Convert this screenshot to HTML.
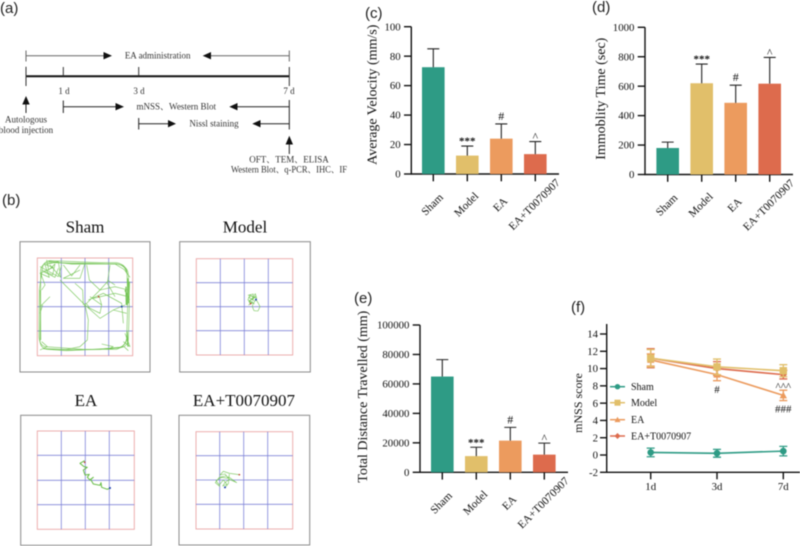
<!DOCTYPE html>
<html lang="en">
<head>
<meta charset="utf-8">
<title>EA behavioural results figure</title>
<style>
html,body{margin:0;padding:0;background:#fff;width:800px;height:546px;overflow:hidden}
svg{display:block;filter:blur(.4px)}
text{font-family:"Liberation Serif","Noto Serif CJK SC",serif;fill:#111}
.pl{font-family:"Liberation Sans",sans-serif;font-size:15px;fill:#222}
.t{font-size:9px;fill:#333;text-anchor:middle}
.title{font-size:17px;text-anchor:middle;fill:#111}
.track{fill:none;stroke:#74c455;stroke-width:1.8;stroke-linejoin:round}
.outer{fill:#fff;stroke:#8a8a8a;stroke-width:1}
.inner{fill:none;stroke:#eba6a6;stroke-width:.9}
.grid{stroke:#7f84d8;stroke-width:.8}
</style>
</head>
<body>
<svg id="fig" width="800" height="546" viewBox="0 0 800 546" xmlns="http://www.w3.org/2000/svg">
<rect width="800" height="546" fill="#fff"/>

<text class="pl" x="0" y="13">(a)</text>
<text class="pl" x="2" y="205">(b)</text>
<text class="pl" x="365" y="18">(c)</text>
<text class="pl" x="592" y="12">(d)</text>
<text class="pl" x="354" y="303">(e)</text>
<text class="pl" x="571" y="312">(f)</text>

<g id="timeline">
  <g stroke="#666" stroke-width="1" fill="none">
    <path d="M26 55.7H105M26 50.5V61.5M289.3 55.7H210M289.3 50.5V61.5"/>
  </g>
  <polygon points="112,55.7 103.5,52 103.5,59.4" fill="#111"/>
  <polygon points="202.7,55.7 211,52 211,59.4" fill="#111"/>
  <text class="t" x="157.7" y="58.5">EA administration</text>

  <path d="M26 76.3H289.3" stroke="#111" stroke-width="2"/>
  <path d="M26 66.7V86M63.3 67V76M138.7 67V76M289.3 67V86" stroke="#333" stroke-width="1" fill="none"/>
  <text class="t" x="64" y="94">1 d</text>
  <text class="t" x="139" y="94">3 d</text>
  <text class="t" x="289" y="94">7 d</text>

  <path d="M26 103V113" stroke="#222" stroke-width="1"/>
  <polygon points="26,96 22.3,104.5 29.7,104.5" fill="#111"/>
  <text class="t" x="26" y="122.5">Autologous</text>
  <text class="t" x="26" y="133">blood injection</text>

  <path d="M63.3 106.7H117M63.3 100.5V113M289.3 106.7H236M289.3 100V129.5M138.7 123.7H170M138.7 118V129.5M289.3 123.7H258" stroke="#222" stroke-width="1" fill="none"/>
  <polygon points="124,106.7 115.5,103 115.5,110.4" fill="#111"/>
  <polygon points="229.3,106.7 237.5,103 237.5,110.4" fill="#111"/>
  <polygon points="176,123.7 168,120 168,127.4" fill="#111"/>
  <polygon points="252.3,123.7 260.5,120 260.5,127.4" fill="#111"/>
  <text class="t" x="176.3" y="109.5">mNSS、Western Blot</text>
  <text class="t" x="214" y="126.5">Nissl staining</text>

  <path d="M289.3 143V154" stroke="#222" stroke-width="1"/>
  <polygon points="289.3,135.7 285.6,144.5 293,144.5" fill="#111"/>
  <text class="t" x="289" y="162.5">OFT、TEM、ELISA</text>
  <text class="t" x="289" y="172.5" textLength="116" lengthAdjust="spacingAndGlyphs">Western Blot、q-PCR、IHC、IF</text>
</g>

<g>
  <text class="title" x="85" y="232.7">Sham</text>
  <rect class="outer" x="20" y="241.7" width="130" height="130.3"/>
  <rect class="inner" x="37.3" y="258" width="95.4" height="97.7"/>
  <path class="grid" d="M61.3 258V355.7M85 258V355.7M108.7 258V355.7M37.3 282.3H132.7M37.3 306.7H132.7M37.3 331H132.7"/>
  <g transform="translate(0,190) scale(.3333)">
    <path class="track" d="M122 240Q124 222 145 218L260 220L345 222Q384 224 385 255L388 350L385 450Q382 472 355 474L200 482L140 478Q122 474 120 455L122 300Z"/>
    <path class="track" d="M127 236Q130 214 150 212L300 218L350 218Q380 224 381 250L383 350L380 445Q378 468 350 478L250 478L135 470Q118 465 117 440L118 300Z"/>
    <path class="track" style="stroke-width:2.6" d="M145 214L215 222L350 222Q378 226 380 250M130 476L220 480L300 478L360 472Q378 466 382 440M121 300L122 450"/>
    <path class="track" d="M130 222L160 232L120 250L148 262L135 225L175 214L182 262L150 225M125 455L142 470L120 480M122 250L135 285L125 300M140 210L146 240L165 222L158 255L125 240M130 245L165 262L175 235M305 462L340 470L322 478L372 470L385 482M375 430L390 470L370 455M345 222L372 238L390 262"/>
    <path class="track" style="stroke-width:3.6" d="M384 265L382 345M388 275L386 340M378 290L379 345M381 425L384 470M375 300L388 330"/>
    <path class="track" d="M180 270L255 345L300 385L340 360L380 370M255 345L265 390L262 450L240 470L190 480M260 340L300 300L345 290L385 300M265 330L310 310L365 340L370 400M255 220L240 265L190 265L240 240M330 225L322 280L345 320M298 320L305 345L270 320M120 230L175 260L185 225M120 350L150 320M260 350L300 370L305 345M280 325L345 310L385 320M250 345L248 300L225 280M260 225L268 270L300 300L325 272L345 285M190 225L215 258L240 225M252 350L258 340L268 352M340 360L375 345M120 370L128 345"/>
    <circle cx="296" cy="320" r="2.5" fill="#c0392b"/>
    <circle cx="365" cy="350" r="3" fill="#1e3fae"/>
  </g>
</g>

<g>
  <text class="title" x="245" y="232.7">Model</text>
  <rect class="outer" x="179.7" y="241.7" width="130.6" height="130.3"/>
  <rect class="inner" x="196.3" y="258.7" width="96.4" height="96.3"/>
  <path class="grid" d="M220.3 258.7V355M244.3 258.7V355M268.3 258.7V355M196.3 282.7H292.7M196.3 306.7H292.7M196.3 330.7H292.7"/>
  <g transform="translate(170,190) scale(.3333)">
    <path class="track" d="M242 341L236 345L248 336L234 330L240 314L250 322L256 311L260 325L245 318L236 322L252 332L244 326L238 338L250 340L258 329L264 338L270 350L264 363L252 362L247 350L250 338M234 316L250 312L246 330L258 318L236 334L254 342"/>
    <circle cx="242" cy="341" r="2.5" fill="#c0392b"/>
    <circle cx="258" cy="329" r="3" fill="#1e3fae"/>
  </g>
</g>

<g>
  <text class="title" x="86" y="406">EA</text>
  <rect class="outer" x="20.7" y="415.3" width="130.6" height="130"/>
  <rect class="inner" x="37.3" y="431" width="97" height="98.3"/>
  <path class="grid" d="M61.3 431V529.3M85.3 431V529.3M109.3 431V529.3M37.3 455.3H134.3M37.3 480.3H134.3M37.3 504.7H134.3"/>
  <g transform="translate(0,370) scale(.3333)">
    <path class="track" style="stroke-width:3;stroke:#66bb45" d="M254 272L240 280L252 290L262 292L250 300L255 315L268 313L262 322L270 330L280 322L272 328L280 342L300 346L303 338L305 352L322 358L330 354"/>
    <circle cx="254" cy="277" r="2.5" fill="#c0392b"/>
    <circle cx="330" cy="354" r="3" fill="#1e3fae"/>
  </g>
</g>

<g>
  <text class="title" x="244" y="406">EA+T0070907</text>
  <rect class="outer" x="179" y="415.3" width="130.7" height="129.7"/>
  <rect class="inner" x="196" y="431.7" width="96.7" height="97.3"/>
  <path class="grid" d="M219.7 431.7V529M243.7 431.7V529M267.7 431.7V529M196 455.7H292.7M196 480H292.7M196 504.3H292.7"/>
  <g transform="translate(170,370) scale(.3333)">
    <path class="track" d="M208 314L178 310L160 304L150 315L165 312L175 325L155 322L138 332L148 345L160 330L172 345L165 352M150 350L136 338L148 322L168 318L182 325L200 338L178 328L165 338L158 348L175 342L178 312"/>
    <circle cx="208" cy="314" r="2.5" fill="#c0392b"/>
    <circle cx="165" cy="352" r="3" fill="#1e3fae"/>
  </g>
</g>
</svg>

<script>
const groupNames = ['Sham', 'Model', 'EA', 'EA+T0070907'];
const groupColors = ['#2e9b85', '#e1bf6a', '#ec9b5e', '#dd6b4d'];
const significance = ['', '***', '#', '^'];

const velocityMeans = [72.5, 12.5, 24, 13.5];
const velocityTops = [85, 19, 34, 22];
const velocityTicks = [0, 20, 40, 60, 80, 100];

const immobilityMeans = [180, 620, 487, 617];
const immobilityTops = [220, 750, 607, 795];
const immobilityTicks = [0, 200, 400, 600, 800, 1000];

const distanceMeans = [65000, 11000, 21500, 12000];
const distanceTops = [76500, 17000, 30500, 19800];
const distanceTicks = [0, 20000, 40000, 60000, 80000, 100000];

const days = ['1d', '3d', '7d'];
const mnssTicks = [-2, 0, 2, 4, 6, 8, 10, 12, 14];
const shamScore = [0.3, 0.2, 0.45];
const shamError = [0.5, 0.45, 0.55];
const modelScore = [11.2, 10.2, 9.75];
const modelError = [1.0, 0.9, 0.7];
const eaScore = [11.0, 9.3, 6.9];
const eaError = [0.7, 0.7, 0.6];
const comboScore = [11.2, 10.0, 9.3];
const comboError = [1.1, 0.8, 0.5];
const scoreNotes = [
  { day: 1, value: 7.6, text: '#' },
  { day: 2, value: 7.9, text: '^^^' },
  { day: 2, value: 5.3, text: '###' }
];

const NS = 'http://www.w3.org/2000/svg';
const fig = document.getElementById('fig');

function mk(parent, tag, attrs, txt) {
  const el = document.createElementNS(NS, tag);
  for (const k in attrs) el.setAttribute(k, attrs[k]);
  if (txt !== undefined) el.textContent = txt;
  parent.appendChild(el);
  return el;
}
function scale(d0, d1, r0, r1) {
  return v => r0 + (v - d0) * (r1 - r0) / (d1 - d0);
}
function axisLine(parent, d, name) {
  const el = mk(parent, 'path', { d: d, stroke: '#111', 'stroke-width': 1.4, fill: 'none' });
  
  
  return el;
}
function label(parent, x, y, s, size, anchor, name, extra) {
  const el = mk(parent, 'text', Object.assign({ x: x, y: y, 'font-size': size, 'text-anchor': anchor }, extra || {}), s);
  
  
  return el;
}

function barChart(cfg) {
  const g = mk(fig, 'g', {});
  
  
  const y = scale(cfg.ticks[0], cfg.ticks[cfg.ticks.length - 1], cfg.y0, cfg.y1);
  const x = i => cfg.x0 + i * 34;
  axisLine(g, 'M' + cfg.axisX + ' ' + y(cfg.ticks[cfg.ticks.length - 1]) + 'V' + cfg.y0 + 'H' + cfg.xEnd, 'axis-lines');
  cfg.ticks.forEach(t => {
    axisLine(g, 'M' + (cfg.axisX - 7.3) + ' ' + y(t) + 'H' + cfg.axisX, 'y-tick');
    label(g, cfg.axisX - 10.6, y(t) + 3.6, t, 10.8, 'end', 'y-tick-label');
  });
  groupNames.forEach((n, i) => {
    const top = y(cfg.means[i]);
    const bar = mk(g, 'rect', { x: x(i) - 11.3, y: top, width: 22.6, height: cfg.y0 - top, fill: groupColors[i] });
    
    
    const et = y(cfg.tops[i]);
    const err = mk(g, 'path', { d: 'M' + x(i) + ' ' + top + 'V' + et + 'M' + (x(i) - 6) + ' ' + et + 'H' + (x(i) + 6), stroke: '#222', 'stroke-width': 1.1, fill: 'none' });
    
    
    axisLine(g, 'M' + x(i) + ' ' + cfg.y0 + 'v7.3', 'x-tick');
    const ly = cfg.y0 + 33;
    label(g, x(i) + 1.5, ly, n, 11.2, 'middle', 'x-tick-label', { transform: 'rotate(-45 ' + (x(i) + 1.5) + ' ' + ly + ')' });
    const mark = significance[i];
    if (mark === '***') {
      label(g, x(i), et - 1.5, mark, 11, 'middle', 'significance-mark', { 'font-weight': 'bold' });
    } else if (mark === '#') {
      label(g, x(i), et - 4, mark, 12, 'middle', 'significance-mark');
    } else if (mark === '^') {
      label(g, x(i), et - 1.2, mark, 11.5, 'middle', 'significance-mark');
    }
  });
  label(g, cfg.titleX, cfg.titleY, cfg.title, 14, 'middle', 'y-axis-title', { transform: 'rotate(-90 ' + cfg.titleX + ' ' + cfg.titleY + ')' });
}

barChart({ name: 'average-velocity-chart', title: 'Average Velocity (mm/s)', means: velocityMeans, tops: velocityTops, ticks: velocityTicks,
  axisX: 411.3, x0: 433.3, xEnd: 559, y0: 174, y1: 26.7, titleX: 376.7, titleY: 94.7 });
barChart({ name: 'immobility-time-chart', title: 'Immoblity Time (sec)', means: immobilityMeans, tops: immobilityTops, ticks: immobilityTicks,
  axisX: 645, x0: 667.7, xEnd: 793, y0: 174.5, y1: 27.3, titleX: 605, titleY: 98.7 });
barChart({ name: 'total-distance-chart', title: 'Total Distance Travelled (mm)', means: distanceMeans, tops: distanceTops, ticks: distanceTicks,
  axisX: 420, x0: 442.3, xEnd: 568, y0: 472.3, y1: 325, titleX: 367, titleY: 396.7 });

const series = [
  { name: 'Sham', color: groupColors[0], values: shamScore, errors: shamError, marker: 'circle', legendY: 386.7 },
  { name: 'EA+T0070907', color: groupColors[3], values: comboScore, errors: comboError, marker: 'diamond', legendY: 436 },
  { name: 'EA', color: groupColors[2], values: eaScore, errors: eaError, marker: 'triangle', legendY: 419.7 },
  { name: 'Model', color: groupColors[1], values: modelScore, errors: modelError, marker: 'square', legendY: 402.7 }
];

function drawMarker(g, kind, cx, cy, color, s) {
  let el;
  if (kind === 'circle') el = mk(g, 'circle', { cx: cx, cy: cy, r: s * 0.9, fill: color });
  if (kind === 'square') el = mk(g, 'rect', { x: cx - s, y: cy - s, width: 2 * s, height: 2 * s, fill: color });
  if (kind === 'triangle') el = mk(g, 'polygon', { points: cx + ',' + (cy - s) + ' ' + (cx - s) + ',' + (cy + s * .8) + ' ' + (cx + s) + ',' + (cy + s * .8), fill: color });
  if (kind === 'diamond') el = mk(g, 'polygon', { points: cx + ',' + (cy - s) + ' ' + (cx - s) + ',' + cy + ' ' + cx + ',' + (cy + s) + ' ' + (cx + s) + ',' + cy, fill: color });
  
  
}

(function lineChart() {
  const g = mk(fig, 'g', {});
  
  
  const y = scale(-2, 14, 472.3, 334);
  const x = i => 650.7 + i * 66.3;
  axisLine(g, 'M606.7 324V' + y(-2) + 'H800', 'axis-lines');
  mnssTicks.forEach(t => {
    axisLine(g, 'M600 ' + y(t) + 'H606.7', 'y-tick');
    label(g, 598, y(t) + 3.6, t, 10.8, 'end', 'y-tick-label');
  });
  days.forEach((d, i) => {
    axisLine(g, 'M' + x(i) + ' ' + y(-2) + 'v7', 'x-tick');
    label(g, x(i), 490, d, 10.8, 'middle', 'x-tick-label');
  });
  label(g, 582, 403, 'mNSS score', 12, 'middle', 'y-axis-title', { transform: 'rotate(-90 582 403)' });
  series.forEach(s => {
    const sg = mk(g, 'g', {});
    
    
    const line = mk(sg, 'polyline', { points: s.values.map((v, i) => x(i) + ',' + y(v)).join(' '), fill: 'none', stroke: s.color, 'stroke-width': 1.6 });
    
    
    s.values.forEach((v, i) => {
      const hi = y(v + s.errors[i]), lo = y(v - s.errors[i]);
      const err = mk(sg, 'path', { d: 'M' + x(i) + ' ' + lo + 'V' + hi + 'M' + (x(i) - 4) + ' ' + hi + 'h8M' + (x(i) - 4) + ' ' + lo + 'h8', stroke: s.color, 'stroke-width': 1.3, fill: 'none' });
      
      
      drawMarker(sg, s.marker, x(i), y(v), s.color, 3.7);
    });
    const lg = mk(g, 'g', {});
    
    
    const ll = mk(lg, 'path', { d: 'M610 ' + s.legendY + 'H625', stroke: s.color, 'stroke-width': 1.5 });
    
    
    drawMarker(lg, s.marker, 617.5, s.legendY, s.color, 3);
    label(lg, 631, s.legendY + 3.4, s.name, 10, 'start', 'legend-label');
  });
  scoreNotes.forEach(n => {
    label(g, x(n.day), y(n.value) + 3.5, n.text, 11, 'middle', 'significance-mark');
  });
})();
</script>
</body>
</html>
